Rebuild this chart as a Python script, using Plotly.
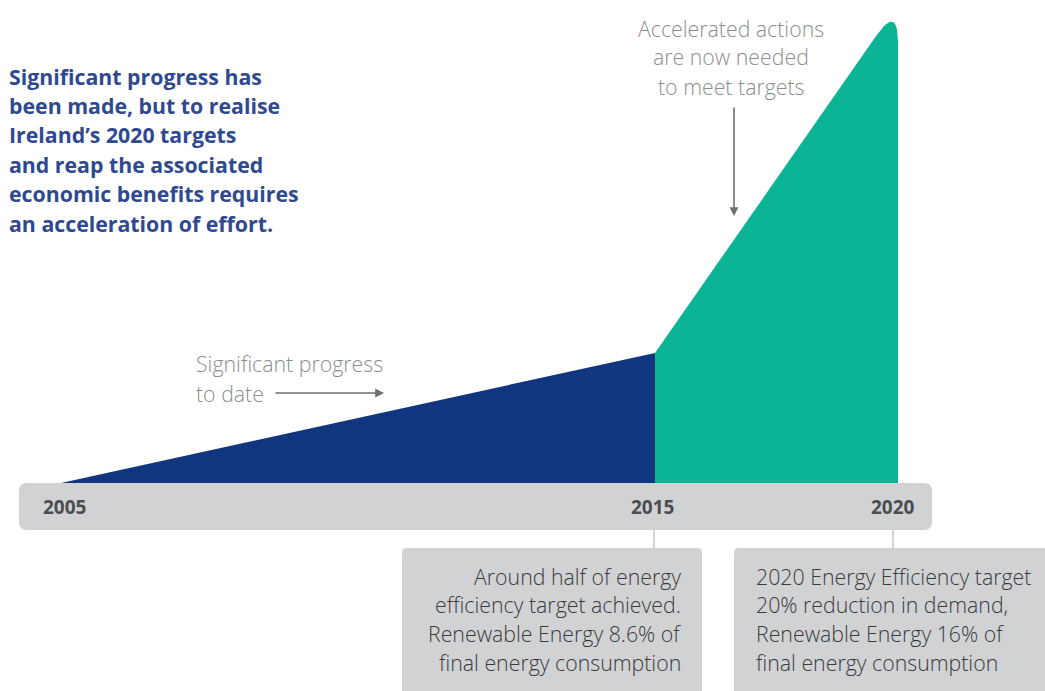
import plotly.graph_objects as go

# ---------------- data ----------------
years = [2005, 2015, 2020]
progress = [0, 27.2, 100]          # progress index (2020 target = 100)
year_labels = ["2005", "2015", "2020"]

headline = ["Significant progress has", "been made, but to realise", "Ireland\u2019s 2020 targets",
            "and reap the associated", "economic benefits requires", "an acceleration of effort."]
accel_note = ["Accelerated actions", "are now needed", "to meet targets"]
progress_note = ["Significant progress", "to date"]
box_2015 = ["Around half of energy", "efficiency target achieved.", "Renewable Energy 8.6% of",
            "final energy consumption"]
box_2020 = ["2020 Energy Efficiency target", "20% reduction in demand,", "Renewable Energy 16% of",
            "final energy consumption"]

# ---------------- layout constants (pixels) ----------------
W, H = 1045, 691
X0, X1, X2 = 61, 655, 898       # pixel positions of the year axis breaks
Y_BASE, Y_TOP = 483, 4.6         # pixel of progress 0 and 100

def px(x):
    return x / W

def py(y):
    return (H - y) / H

BLUE = "#11357f"
GREEN = "#0bb494"
GREY_BAR = "#d1d2d4"
HEAD_C = "#2f4990"
NOTE_C = "#8d8d8f"
ARROW_C = "#6d6e71"
BOX_TXT = "#3a3a3c"
YEAR_C = "#4d4d4f"

fig = go.Figure()

# blue segment 2005-2015 (on x axis)
fig.add_trace(go.Scatter(
    x=[years[0], years[1], years[1], years[0]],
    y=[progress[0], progress[1], 0, 0],
    fill="toself", mode="lines", line=dict(width=0, color=BLUE),
    fillcolor=BLUE, hoverinfo="skip", xaxis="x", yaxis="y"))

# green segment 2015-2020 (on x2 axis) with a rounded apex
sx = (X2 - X1) / (years[2] - years[1])          # px per year on x2
sy = (Y_BASE - Y_TOP) / 100.0                    # px per progress unit
ax_px, ay_px = 0.0, progress[2] * sy             # apex relative (px, upward)
bx_px, by_px = -(years[2] - years[1]) * sx, progress[1] * sy
dx, dy = bx_px - ax_px, by_px - ay_px
L = (dx ** 2 + dy ** 2) ** 0.5
R = 38.0
p0 = (ax_px + dx / L * R, ay_px + dy / L * R)
p2 = (ax_px, ay_px - R)
gx, gy = [years[1], years[1]], [0, progress[1]]
n = 16
for i in range(n + 1):
    t = i / n
    qx = (1 - t) ** 2 * p0[0] + 2 * t * (1 - t) * ax_px + t ** 2 * p2[0]
    qy = (1 - t) ** 2 * p0[1] + 2 * t * (1 - t) * ay_px + t ** 2 * p2[1]
    gx.append(years[2] + qx / sx)
    gy.append(qy / sy)
gx.append(years[2]); gy.append(0)
fig.add_trace(go.Scatter(
    x=gx, y=gy, fill="toself", mode="lines", line=dict(width=0, color=GREEN),
    fillcolor=GREEN, hoverinfo="skip", xaxis="x2", yaxis="y"))

# ---------------- shapes ----------------
shapes = []

def rounded_rect(x0, y0, x1, y1, r, color, top_only=False):
    X0_, X1_ = px(x0), px(x1)
    Yt, Yb = py(y0), py(y1)
    rx, ry = r / W, r / H
    if top_only:
        path = (f"M{X0_},{Yb} L{X0_},{Yt - ry} Q{X0_},{Yt} {X0_ + rx},{Yt} "
                f"L{X1_ - rx},{Yt} Q{X1_},{Yt} {X1_},{Yt - ry} L{X1_},{Yb} Z")
    else:
        path = (f"M{X0_ + rx},{Yt} L{X1_ - rx},{Yt} Q{X1_},{Yt} {X1_},{Yt - ry} "
                f"L{X1_},{Yb + ry} Q{X1_},{Yb} {X1_ - rx},{Yb} L{X0_ + rx},{Yb} "
                f"Q{X0_},{Yb} {X0_},{Yb + ry} L{X0_},{Yt - ry} Q{X0_},{Yt} {X0_ + rx},{Yt} Z")
    return dict(type="path", xref="paper", yref="paper", path=path,
                fillcolor=color, line=dict(width=0), layer="below")

shapes.append(rounded_rect(19, 483, 932, 530, 8, GREY_BAR))
shapes.append(rounded_rect(402, 548, 702, 700, 5, GREY_BAR, top_only=True))
shapes.append(rounded_rect(734, 548, 1060, 700, 5, GREY_BAR, top_only=True))
# connectors
for xc in (654, 893):
    shapes.append(dict(type="line", xref="paper", yref="paper",
                       x0=px(xc), x1=px(xc), y0=py(530), y1=py(548),
                       line=dict(color="#c6c7c9", width=1.5)))

# ---------------- annotations ----------------
ann = []
HEAD_FONT = dict(family="Open Sans, sans-serif", size=21.3, color=HEAD_C, weight="bold")
NOTE_FONT = dict(family="Open Sans, sans-serif", size=21.3, color=NOTE_C, weight=300)
BOX_FONT = dict(family="Open Sans, sans-serif", size=21.3, color=BOX_TXT, weight=300)

for i, t in enumerate(headline):
    ann.append(dict(text=t, x=px(7), y=py(76 + i * 29.4), xref="paper", yref="paper",
                    xanchor="left", yanchor="middle", showarrow=False, font=HEAD_FONT))
for i, t in enumerate(accel_note):
    ann.append(dict(text=t, x=px(731), y=py(28 + i * 29), xref="paper", yref="paper",
                    xanchor="center", yanchor="middle", showarrow=False, font=NOTE_FONT))
for i, t in enumerate(progress_note):
    ann.append(dict(text=t, x=px(194), y=py(364 + i * 29), xref="paper", yref="paper",
                    xanchor="left", yanchor="middle", showarrow=False, font=NOTE_FONT))
for i, t in enumerate(box_2015):
    ann.append(dict(text=t, x=px(683), y=py(576 + i * 28.7), xref="paper", yref="paper",
                    xanchor="right", yanchor="middle", showarrow=False, font=BOX_FONT))
for i, t in enumerate(box_2020):
    ann.append(dict(text=t, x=px(754), y=py(576 + i * 28.7), xref="paper", yref="paper",
                    xanchor="left", yanchor="middle", showarrow=False, font=BOX_FONT))

# arrows
ann.append(dict(text="", x=px(384), y=py(393), xref="paper", yref="paper",
                ax=-110, ay=0, showarrow=True, arrowhead=2, arrowsize=1.1,
                arrowwidth=1.6, arrowcolor=ARROW_C))
ann.append(dict(text="", x=px(734), y=py(216), xref="paper", yref="paper",
                ax=0, ay=-110, showarrow=True, arrowhead=2, arrowsize=1.1,
                arrowwidth=1.6, arrowcolor=ARROW_C))

# year labels on the timeline bar
YEAR_FONT = dict(family="Open Sans, sans-serif", size=19, color=YEAR_C, weight="bold")
year_refs = ["x", "x2", "x2"]
year_shift = [3, -3, -5]
for yr, lab, ref, sh in zip(years, year_labels, year_refs, year_shift):
    ann.append(dict(text=lab, x=yr, xref=ref, y=py(507), yref="paper",
                    xanchor="center", yanchor="middle", xshift=sh,
                    showarrow=False, font=YEAR_FONT))

axis_common = dict(visible=False, showgrid=False, zeroline=False, fixedrange=True)
fig.update_layout(
    width=W, height=H,
    margin=dict(l=0, r=0, t=0, b=0),
    paper_bgcolor="white", plot_bgcolor="rgba(0,0,0,0)",
    showlegend=False,
    xaxis=dict(domain=[px(X0), px(X1)], range=[years[0], years[1]], **axis_common),
    xaxis2=dict(domain=[px(X1), px(X2)], range=[years[1], years[2]], anchor="y", **axis_common),
    yaxis=dict(domain=[py(Y_BASE), py(Y_TOP)], range=[0, 100], **axis_common),
    shapes=shapes,
    annotations=ann,
)

fig.write_html("out.html", config={"displayModeBar": False},
               post_script="document.body.style.margin='0px';document.body.style.overflow='hidden';")
